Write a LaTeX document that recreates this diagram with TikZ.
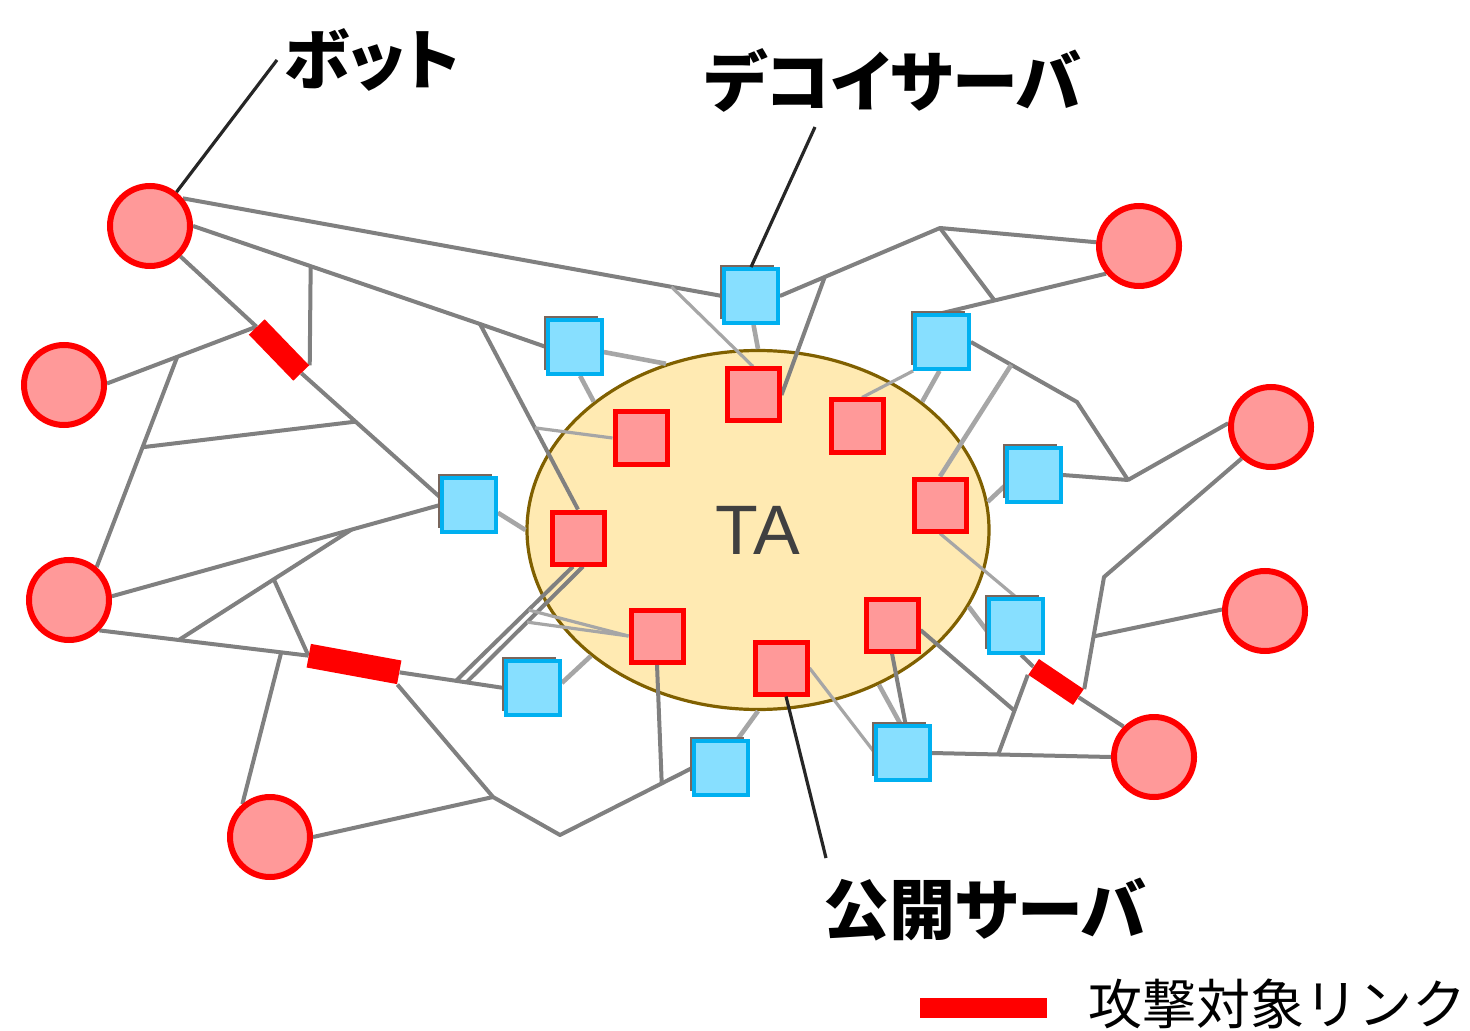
\documentclass[tikz,border=0pt]{standalone}
\usepackage{fontspec}
\setmainfont{Liberation Sans}
\newfontfamily\jpp[RawFeature=+palt]{Noto Sans CJK JP}
\newfontfamily\jp{Noto Sans CJK JP}
\usetikzlibrary{shapes.geometric,shadows,calc}
\definecolor{botfill}{HTML}{FF9999}
\definecolor{redline}{HTML}{FF0000}
\definecolor{decfill}{HTML}{87DFFF}
\definecolor{decline}{HTML}{00B0F0}
\definecolor{shbrown}{HTML}{7A665C}
\definecolor{tafill}{HTML}{FFEAB2}
\definecolor{taline}{HTML}{806000}
\definecolor{linkgray}{HTML}{808080}
\definecolor{litegray}{HTML}{A6A6A6}
\definecolor{leadcol}{HTML}{262626}
\definecolor{tatext}{HTML}{404040}
\pgfdeclarelayer{bgl}
\pgfdeclarelayer{ell}
\pgfdeclarelayer{lines}
\pgfsetlayers{bgl,ell,lines,main}
\begin{document}
\begin{tikzpicture}[x=0.5pt,y=-0.5pt,
 bot/.style={circle, fill=botfill, draw=redline, line width=3pt, minimum size=40pt, inner sep=0pt},
 pub/.style={rectangle, fill=botfill, draw=redline, line width=2.5pt, minimum size=26pt, inner sep=0pt},
 dec/.style={rectangle, fill=decfill, draw=decline, line width=1.9pt, minimum size=27pt, inner sep=0pt,
   general shadow={fill=shbrown, shadow xshift=-2pt, shadow yshift=2pt}},
 atk/.style={rectangle, fill=redline, inner sep=0pt},
 link/.style={draw=linkgray, line width=2pt, line join=round},
 lite/.style={draw=litegray, line width=1.6pt, line join=round},
 tie/.style={draw=litegray, line width=2.3pt},
 lead/.style={draw=leadcol, line width=1.6pt},
 lbl/.style={font=\jpp\bfseries\fontsize{33pt}{36pt}\selectfont, inner sep=0pt},
]
\begin{pgfonlayer}{bgl}
\fill[white] (0,0) rectangle (1470,1031);
\end{pgfonlayer}
\useasboundingbox (0,0) rectangle (1470,1031);

% TA ellipse
\begin{pgfonlayer}{ell}
\node[ellipse, fill=tafill, draw=taline, line width=1.6pt, minimum width=231pt, minimum height=179.5pt,
  inner sep=0pt, text=tatext, font=\fontsize{35pt}{40pt}\selectfont] (TA) at (758,530) {TA};
\end{pgfonlayer}

% bots
\node[bot] (B1) at (150,226) {};
\node[bot] (B2) at (64,385) {};
\node[bot] (B3) at (69,600) {};
\node[bot] (B4) at (270,837) {};
\node[bot] (B5) at (1139,246) {};
\node[bot] (B6) at (1271,427) {};
\node[bot] (B7) at (1265,611) {};
\node[bot] (B8) at (1154,757) {};

% public servers
\node[pub] (R1) at (753,395) {};
\node[pub] (R2) at (641,438) {};
\node[pub] (R3) at (578,538) {};
\node[pub] (R4) at (657,636) {};
\node[pub] (R5) at (781,668) {};
\node[pub] (R6) at (892,625) {};
\node[pub] (R7) at (940,505) {};
\node[pub] (R8) at (857,426) {};

% decoy servers
\node[dec] (D1) at (751,296) {};
\node[dec] (D2) at (575,347) {};
\node[dec] (D3) at (469,505) {};
\node[dec] (D4) at (533,688) {};
\node[dec] (D5) at (721,768) {};
\node[dec] (D6) at (903,753) {};
\node[dec] (D7) at (1016,626) {};
\node[dec] (D8) at (1034,475) {};
\node[dec] (D9) at (942,342) {};

% attacked links
\node[atk, minimum width=32pt, minimum height=11pt, rotate=-46] (A1) at (279,350) {};
\node[atk, minimum width=46pt, minimum height=12pt, rotate=-10.4] (A2) at (354,664) {};
\node[atk, minimum width=27pt, minimum height=9.5pt, rotate=-34] (A3) at (1056,682) {};

% junctions
\coordinate (J3) at (480,324);
\coordinate (J12) at (493,797);
\coordinate (J15) at (560,835);
\coordinate (J21) at (1104,577);
\coordinate (J24) at (1077,402);
\coordinate (J25) at (1128,480);
\coordinate (J28) at (940,228);
\coordinate (J1) at ($(B1.40)!0.906!(D1.west)$);
\coordinate (J2) at ($(B1.east)!0.41!(J3)$);
\coordinate (J4) at ($(A1.east)!0.39!(D3.165)$);
\coordinate (J6) at ($(B2.2)!0.47!(A1.west)$);
\coordinate (J5) at ($(J6)!0.43!(B3.50)$);
\coordinate (J7) at ($(B3.5)!0.73!(D3.west)$);
\coordinate (J8) at ($(B3.-45)!0.38!(A2.west)$);
\coordinate (J10) at ($(B3.-45)!0.87!(A2.west)$);
\coordinate (J9) at ($(J8)!0.55!(J7)$);
\coordinate (J13) at ($(A2.east)!0.54!(D4.west)$);
\coordinate (J14) at ($(A2.east)!0.64!(D4.west)$);
\coordinate (J16) at ($(J15)!0.77!(D5.west)$);
\coordinate (J17) at ($(J3)!0.56!(R3.north)$);
\coordinate (J22) at ($(J21)!0.53!(A3.north east)$);
\coordinate (J23) at ($(D9.east)!0.38!(J24)$);
\coordinate (J26) at ($(D9.north)!0.32!(B5.220)$);
\coordinate (J27) at ($(D1.east)!0.28!(J28)$);
\coordinate (J20) at ($(D6.east)!0.37!(B8.west)$);
\coordinate (J18) at ($(A3.south west)!0.45!(J20)$);
\coordinate (J29) at ($(J13)!0.62!(R3.-100)$);
\coordinate (J30) at ($(J14)!0.52!(R3.-80)$);

\begin{pgfonlayer}{lines}
% left side
\draw[link] (B1.40) -- (D1.west);
\draw[lite] (J1) -- (R1.north);
\draw[link] (B1.east) -- (J3) -- (D2.west);
\draw[link] (J2) -- (A1.north east);
\draw[link] (J3) -- (R3.north);
\draw[lite] (J17) -- (R2.west);
\draw[link] (B1.-45) -- (A1.west);
\draw[link] (A1.east) -- (D3.165);
\draw[link] (B2.2) -- (A1.west);
\draw[link] (J6) -- (B3.50);
\draw[link] (J5) -- (J4);
\draw[link] (B3.5) -- (D3.west);
\draw[link] (B3.-45) -- (A2.west);
\draw[link] (J8) -- (J7);
\draw[link] (J9) -- (A2.west);
\draw[link] (J10) -- (B4.130);
\draw[link] (A2.east) -- (D4.west);
\draw[link] (J13) -- (R3.-100);
\draw[link] (J14) -- (R3.-80);
\draw[lite] (J29) -- (R4.west);
\draw[lite] (J30) -- (R4.west);
\draw[link] (A2.south east) -- (J12) -- (J15) -- (D5.west);
\draw[link] (B4.east) -- (J12);
\draw[link] (J16) -- (R4.south);
% ties to TA
\draw[tie] (D1.-85) -- (TA.90);
\draw[tie] (D2.-10) -- (TA.119);
\draw[tie] (D2.-80) -- (TA.142);
\draw[tie] (D3.-15) -- (TA.180);
\draw[tie] (D4.10) -- (TA.217);
\draw[tie] (D5.60) -- (TA.270);
\draw[tie] (TA.308) -- (D6.95);
\draw[tie] (TA.340) -- (D7.190);
\draw[tie] (TA.7) -- (D8.200);
\draw[tie] (TA.38) -- (D9.-95);
% top and right
\draw[link] (J27) -- (R1.east);
\draw[link] (D1.east) -- (J28) -- (B5.175);
\draw[link] (D9.north) -- (B5.220);
\draw[link] (J28) -- (J26);
\draw[lite] (R8.80) -- (D9.south west);
\draw[link] (D9.east) -- (J24) -- (J25) -- (B6.175);
\draw[tie] (J23) -- (R7.north);
\draw[link] (D8.east) -- (J25);
\draw[link] (B6.227) -- (J21) -- (A3.north east);
\draw[link] (J22) -- (B7.178);
\draw[link] (D7.-80) -- (A3.west);
\draw[link] (A3.east) -- (B8.135);
\draw[link] (D6.east) -- (B8.west);
\draw[link] (A3.south west) -- (J20);
\draw[link] (R6.-10) -- (J18);
\draw[link] (R6.south) -- (D6.85);
\draw[lite] (R5.east) -- (D6.178);
\draw[lite] (R7.south) -- (D7.north);
\end{pgfonlayer}

% labels and leaders
\coordinate (Lbot) at (277,60);
\coordinate (Ldec) at (815,127);
\coordinate (Lpub) at (826,858);
\draw[lead] (Lbot) -- (B1.52);
\draw[lead] (Ldec) -- (D1.north);
\draw[lead] (R5.-80) -- (Lpub);
\node[lbl] (tbot) at (372,60) {ボット};
\node[lbl] (tdec) at (893,80) {デコイサーバ};
\node[lbl] (tpub) at (985,910) {公開サーバ};

% legend
\node[atk, minimum width=63.5pt, minimum height=10pt] (legbar) at (983.5,1008) {};
\node[font=\jp\fontsize{27pt}{30pt}\selectfont, inner sep=0pt, anchor=west] (legtxt) at (1088,1004) {攻撃対象リンク};
\end{tikzpicture}
\end{document}
